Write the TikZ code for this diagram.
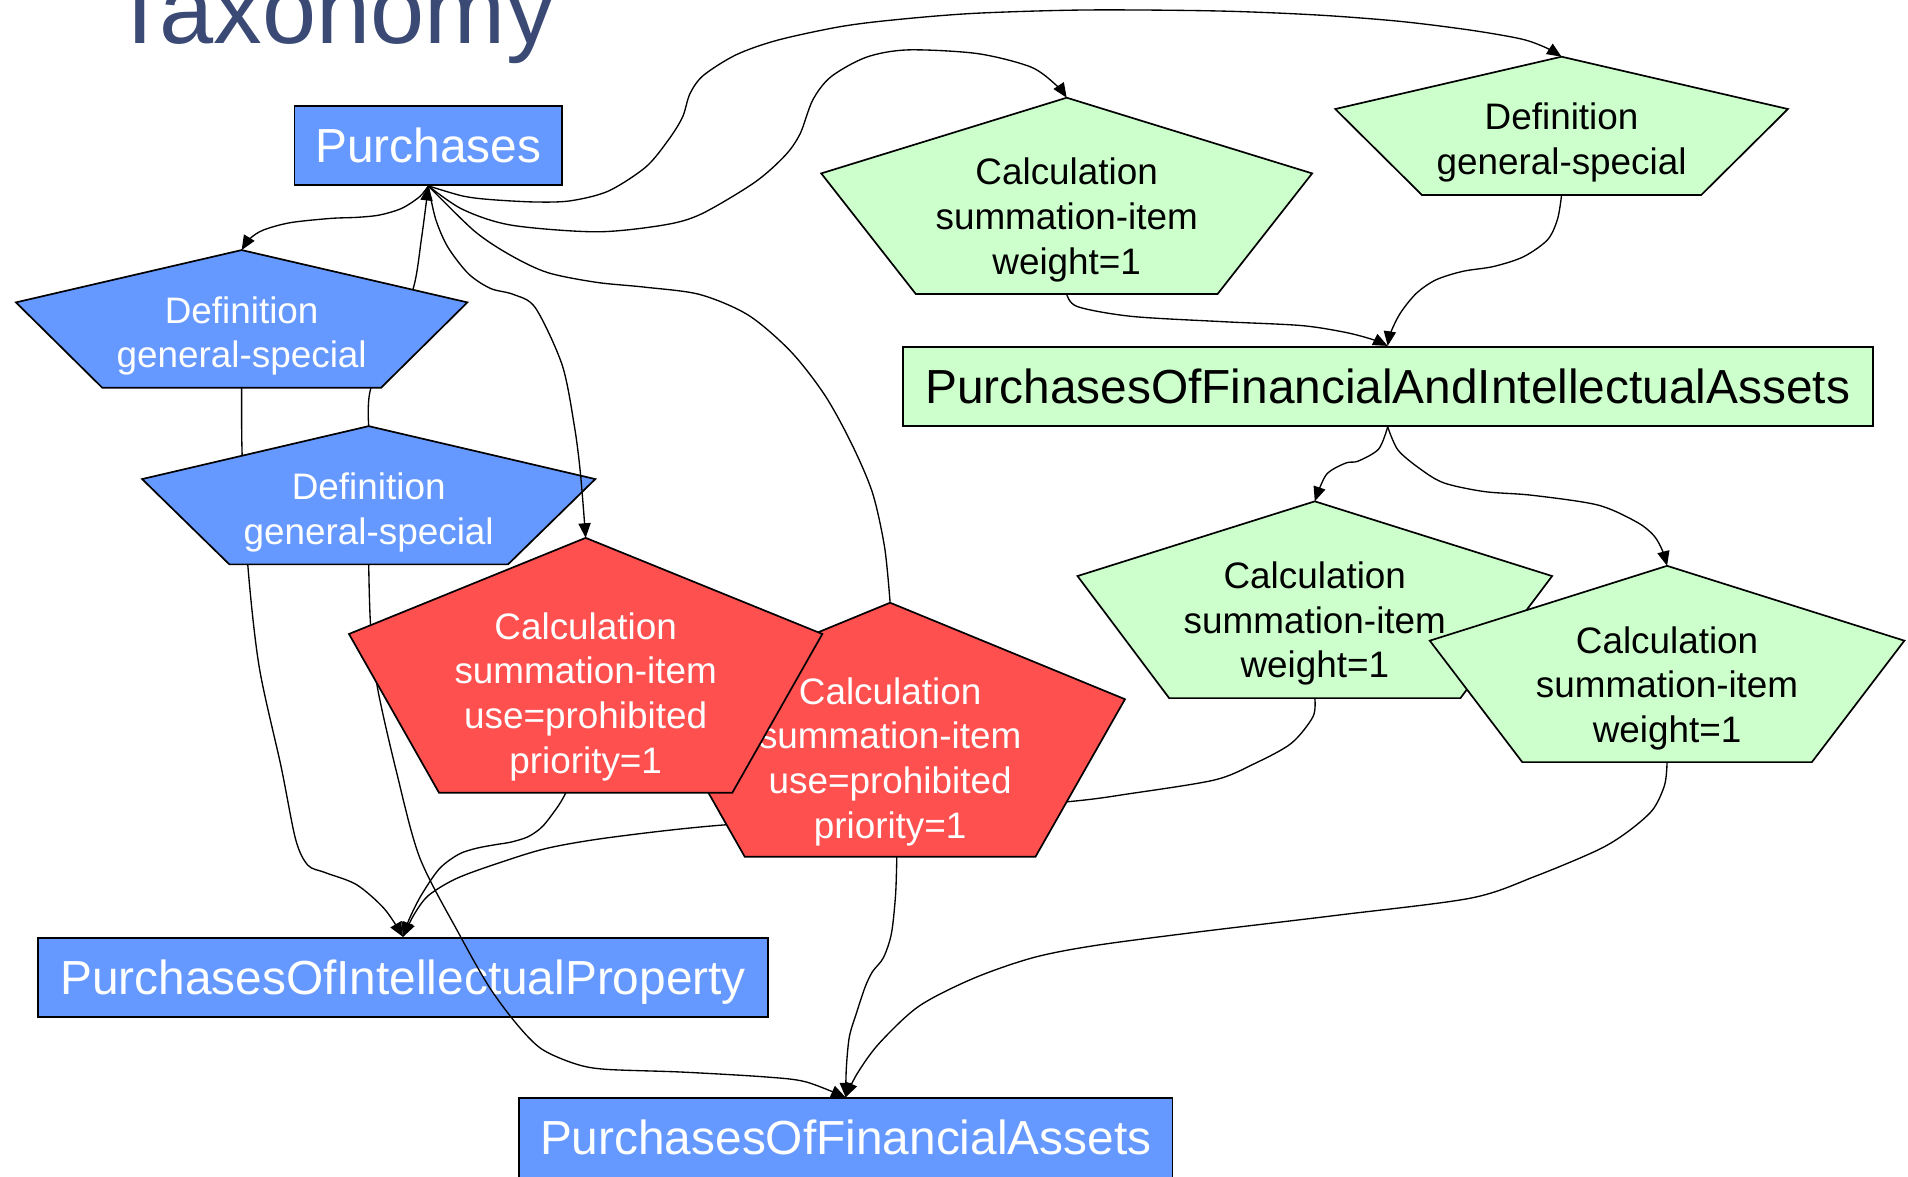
\documentclass[tikz,border=0pt]{standalone}
\usepackage{fontspec}
\setmainfont{Liberation Sans}
\usetikzlibrary{arrows.meta}

\definecolor{nodeblue}{HTML}{6699FF}
\definecolor{nodegreen}{HTML}{CCFFCC}
\definecolor{nodered}{HTML}{FF5050}
\definecolor{titleblue}{HTML}{3B4A74}

% house-shaped pentagon: #1 style, #2 name, #3 centre x, #4 apex y,
% #5 y of the side corners, #6 bottom y, #7 half width, #8 half width of the base
\newcommand\pentshape[8]{%
  \path[#1] (#3,#4) coordinate (#2-t) -- ({#3+#7},#5) -- ({#3+#8},#6)
    -- ({#3-#8},#6) -- ({#3-#7},#5) -- cycle;
  \coordinate (#2-b) at (#3,#6);}
\newcommand\linesof[1]{\begin{tabular}[t]{@{}c@{}}#1\end{tabular}}

\begin{document}
\begin{tikzpicture}[x=1pt,y=-1pt,
  boxlabel/.style={draw=black, line width=1.5pt, inner sep=0pt,
    text height=28pt, text depth=0pt, font=\fontsize{39.3}{47}\selectfont},
  shapeline/.style={draw=black, line width=1.4pt, line join=miter},
  pentlabel/.style={anchor=base, inner sep=0pt, font=\fontsize{30.3}{36.7}\selectfont},
  link/.style={draw=black, line width=1.1pt, -{Triangle[length=12pt,width=10pt]}},
  plainlink/.style={draw=black, line width=1.1pt},
  ]
\fill[white] (0,0) rectangle (1568,967);
\useasboundingbox (0,0) rectangle (1568,967);
\clip (0,0) rectangle (1568,967);

\node[anchor=base west, inner sep=0pt, text=titleblue,
  font=\fontsize{80}{80}\selectfont] (title) at (91,36) {Taxonomy};

\node[boxlabel, fill=nodeblue, text=white, minimum width=220pt, minimum height=65pt]
  (P) at (352,119.5) {Purchases};

% links that pass behind the two blue definition shapes
\coordinate (R2top) at (731.5,495.3);
\draw[plainlink] plot[smooth] coordinates {(R2top) (727,450) (717,405) (700,365)
  (678,325) (650,289) (615,259) (575,242) (530,236) (490,232) (450,224) (420,210)
  (390,190) (P.south)};

\coordinate (D2-t) at (303,350.2);
\coordinate (D1-b) at (198.6,318.6);
\draw[link] plot[smooth] coordinates {(D2-t) (304,322) (320,278) (339.3,238)
  (346.5,195) (P.south)};

\node[boxlabel, fill=nodeblue, text=white, minimum width=599.5pt, minimum height=65pt]
  (POIP) at (331.2,803.2) {PurchasesOfIntellectualProperty};

\draw[link] plot[smooth] coordinates {(D1-b) (199,374) (203.6,463.8) (213,548)
  (231,630) (243,690) (253,711) (267,717) (293,727) (316,747) (POIP.north)};

% blue definition shapes
\pentshape{shapeline, fill=nodeblue}{D1}{198.6}{205.5}{248.5}{318.6}{185.5}{114.6}
\node[pentlabel, text=white] (D1) at (198.6,265.7) {\linesof{Definition\\general-special}};
\pentshape{shapeline, fill=nodeblue}{D2}{303}{350.2}{393.7}{463.8}{186.2}{114.5}
\node[pentlabel, text=white] (D2) at (303,410.4) {\linesof{Definition\\general-special}};

\node[boxlabel, fill=nodeblue, text=white, minimum width=537pt, minimum height=65pt]
  (POFA) at (695,935.1) {PurchasesOfFinancialAssets};

\coordinate (C1-b) at (1080.5,573.7);
\draw[link] plot[smooth] coordinates {(D2-b) (304.5,513) (310,564) (326,635) (345,705)
  (377,767) (402,811) (425,842) (445,862) (472,874) (497,878.7) (560,881) (629,885)
  (662,889) (POFA.north)};
\draw[link] plot[smooth] coordinates {(C1-b) (1079,589) (1061,611) (1030,628) (998,641)
  (930,652) (876,659) (735,670) (594,678) (503,688) (450,697) (409,709.5) (375,722)
  (352,736) (340,752) (POIP.north)};

% red prohibited calculation shapes
\pentshape{shapeline, fill=nodered}{R2}{731.5}{495.3}{574.6}{704}{193}{119.5}
\node[pentlabel, text=white] (R2) at (731.5,578.7)
  {\linesof{Calculation\\summation-item\\use=prohibited\\priority=1}};
\pentshape{shapeline, fill=nodered}{R1}{481.3}{442}{521}{651.5}{194.5}{120.5}
\node[pentlabel, text=white] (R1) at (481.3,525.4)
  {\linesof{Calculation\\summation-item\\use=prohibited\\priority=1}};
\coordinate (R1-out) at (465,651.5);
\coordinate (R2-out) at (737,704);

% green shapes
\pentshape{shapeline, fill=nodegreen}{G0}{1283.3}{46.6}{89.6}{160.3}{186}{114.7}
\node[pentlabel] (G0) at (1283.3,106.8) {\linesof{Definition\\general-special}};
\pentshape{shapeline, fill=nodegreen}{C0}{876.6}{80.3}{142.5}{241.6}{201.7}{124}
\node[pentlabel] (C0) at (876.6,152) {\linesof{Calculation\\summation-item\\weight=1}};
\pentshape{shapeline, fill=nodegreen}{C1}{1080.5}{412}{473.4}{573.7}{195}{119.7}
\node[pentlabel] (C1) at (1080.5,483.7) {\linesof{Calculation\\summation-item\\weight=1}};
\pentshape{shapeline, fill=nodegreen}{C2}{1370}{465}{526.5}{626.3}{195}{119}
\node[pentlabel] (C2) at (1370,536.7) {\linesof{Calculation\\summation-item\\weight=1}};

\node[boxlabel, fill=nodegreen, minimum width=797pt, minimum height=65pt]
  (PFIA) at (1140.4,317.5) {PurchasesOfFinancialAndIntellectualAssets};

% remaining links
\draw[link] plot[smooth] coordinates {(P.south) (344.9,161.6) (330.2,171.2) (311.9,176.7)
  (293.5,178.6) (271.5,179.5) (238.5,183) (216.5,189) (205.5,196) (D1-t)};
\draw[link] plot[smooth] coordinates {(P.south) (358,180) (368,203) (385,225) (403,237)
  (422,242) (440,253) (462,300) (472,350) (477,389) (R1-t)};
\draw[link] plot[smooth] coordinates {(P.south) (380,172) (420,185) (490,190.5)
  (545,185) (576,176) (620,150) (645,128) (657.5,110) (668,82) (683,63) (712,47)
  (746,41) (803,44) (847,55) (868,70) (C0-t)};
\draw[link] plot[smooth] coordinates {(P.south) (380,161) (403,164) (440,166) (469,165)
  (500,157) (531,137) (550,114) (561,96) (567,77) (578,62) (605,45) (639,33) (690,22)
  (734,16.4) (800,11) (892,8.2) (1000,9) (1082,12.3) (1150,17.5) (1208,24.7)
  (1250,32) (1270,39) (G0-t)};
\draw[link] plot[smooth] coordinates {(C0-b) (885.5,252) (930,260) (1006,264.4)
  (1069,267.5) (1105,273) (1128,279) (PFIA.north)};
\draw[link] plot[smooth] coordinates {(G0-b) (1280,180) (1271.8,197) (1252,211)
  (1227.4,219) (1202,223) (1180,230) (1164,241) (1151,257) (1143,273) (PFIA.north)};
\draw[link] plot[smooth] coordinates {(PFIA.south) (1133,369) (1116,379) (1106,380.5)
  (1090,390) (C1-t)};
\draw[link] plot[smooth] coordinates {(PFIA.south) (1149,370) (1168,386) (1187,397)
  (1220,404) (1259,407) (1313,415) (1345,429) (1359,440) (1366,452) (C2-t)};
\draw[link] plot[smooth] coordinates {(R1-out) (459,662) (446,679) (434,687.6) (420,692)
  (408,694) (392,697) (377,702) (361,714) (346,736) (336,756) (POIP.north)};
\draw[link] plot[smooth] coordinates {(R2-out) (736,735) (732.6,767) (726,787)
  (717,798.5) (711,811) (704,832) (698,852) (695.5,878) (POFA.north)};
\draw[link] plot[smooth] coordinates {(C2-b) (1368,645) (1358,665.7) (1337,684)
  (1313,698.6) (1262,720) (1209,738) (1100,752) (986,765.7) (900,777) (849,787)
  (800,804) (755,827) (722,858) (704,883) (POFA.north)};
\end{tikzpicture}
\end{document}
